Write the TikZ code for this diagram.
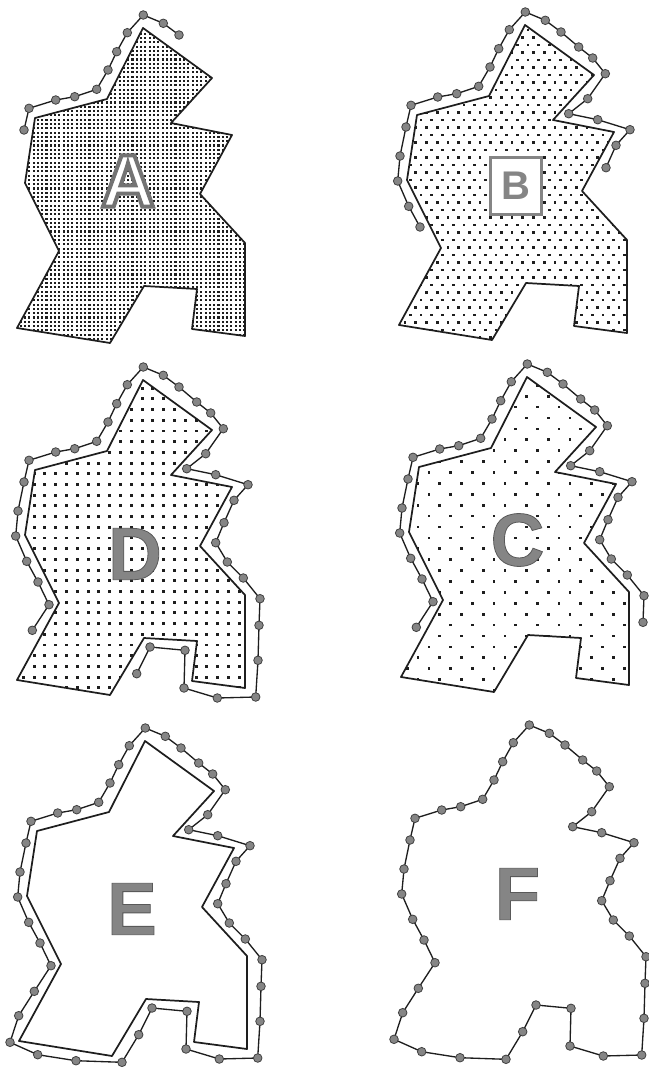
\documentclass[tikz,border=0pt]{standalone}
\usepackage{xcolor}
\usepackage{fontspec}
\setsansfont{Liberation Sans}
\usepackage{tikz}
\definecolor{RInk}{HTML}{1E1E1E}
\definecolor{RBead}{HTML}{858585}
\definecolor{RBeadLine}{HTML}{404040}
\definecolor{RLetter}{HTML}{858585}
% outline of the room, relative to its top corner (pixels, y down)
\newcommand{\room}{(0,0) -- (69,50) -- (28,95) -- (89,107) -- (57,166) -- (102,215)
  -- (102,308) -- (49,301) -- (54,261) -- (1,258) -- (-33,315) -- (-126,300)
  -- (-84,223) -- (-118,155) -- (-108,90) -- (-36,71) -- cycle}
% beads of the walk round the room, in walking order
\newcommand{\beads}{-110.7/250.3,-94/224.7,-105/202,-116.3/181.3,-127.3/156,%
-125/131,-119/102,-114/80.3,-87.3/72,-68.3/68.7,-46.3/61.3,-35/42,%
-26.3/23.7,-15.7/4.7,0.3/-13,20.3/-4.7,36/7,53.7/22,67.7/33,80.3/48.7,%
62.7/73.7,43.7/88.7,72.7/94.7,105/104.7,91/120.3,81/142.7,72.7/162.7,%
84.3/182,100.3/198,117/218.7,116/245.3,115/280.3,112.7/317,74.3/318,%
41/308,42/270.3,7/267,-6.3/293.7,-23/321.3,-69/319.7,-107.3/313.7,%
-135/301.3,-126.3/274.7}
\newcommand{\placebeads}[1]{%
  \foreach \px/\py [count=\k] in \beads {\coordinate (#1\k) at (\px,\py);}}
% dotted fill of the room: step in a row, row step, stagger, dot size
\newcommand{\speckle}[4]{%
  \begin{scope}
    \clip \room;
    \pgfmathtruncatemacro{\nrow}{330/#2}
    \pgfmathtruncatemacro{\ncol}{262/#1}
    \foreach \j in {0,...,\nrow}{
      \pgfmathsetmacro{\yy}{-4+\j*#2}
      \pgfmathsetmacro{\xs}{-132+mod(\j,2)*#3}
      \foreach \i in {0,...,\ncol}
        \fill[RInk] ({\xs+\i*#1},\yy) rectangle ++(#4,#4);
    }
  \end{scope}}
% letter with a stroked rim: width, grey level, letter
\newcommand{\rimmed}[3]{\special{pdf:literal direct 2 Tr #1 w #2 #2 #2 RG}#3\special{pdf:literal direct 0 Tr}}

\begin{document}
\begin{tikzpicture}[x=0.75pt,y=-0.75pt,
  region/.style={draw=RInk,line width=1.3pt,line join=round},
  trail/.style={draw=RInk,line width=1pt,line join=round},
  bead/.style={fill=RBead,draw=RBeadLine,line width=0.6pt},
  letter/.style={font=\sffamily\bfseries\fontsize{56}{56}\selectfont,text=RLetter,inner sep=0pt}]
  \useasboundingbox (0,0) rectangle (649,1067);

  % A: start of the walk
  \begin{scope}[shift={(143,28)}]
    \speckle{4.3}{4.3}{0}{2.1}
    \draw[region] \room;
    \placebeads{A}
    \draw[trail] (A7) \foreach \k in {8,...,17}{-- (A\k)};
    \foreach \k in {7,...,17} \draw[bead] (A\k) circle[radius=4.3];
    \node[letter,text=white] (labA) at (-15,153) {\rimmed{3}{0.45}{A}};
  \end{scope}

  % B
  \begin{scope}[shift={(525,25)}]
    \speckle{10.7}{7.5}{5.35}{2.7}
    \draw[region] \room;
    \placebeads{B}
    \draw[trail] (B3) \foreach \k in {4,...,26}{-- (B\k)};
    \foreach \k in {3,...,26} \draw[bead] (B\k) circle[radius=4.3];
    \node[letter,draw=RLetter,line width=2.4pt,fill=white,minimum width=38pt,
      minimum height=43pt,font=\sffamily\bfseries\fontsize{30}{30}\selectfont]
      (labB) at (-9,161) {B};
  \end{scope}

  % D
  \begin{scope}[shift={(143,380)}]
    \speckle{10.8}{10.7}{0}{2.9}
    \draw[region] \room;
    \placebeads{D}
    \draw[trail] (D1) \foreach \k in {2,...,38}{-- (D\k)};
    \foreach \k in {1,...,38} \draw[bead] (D\k) circle[radius=4.3];
    \node[letter] (labD) at (-8,174) {\rimmed{0.6}{0.35}{D}};
  \end{scope}

  % C
  \begin{scope}[shift={(527,377)}]
    \speckle{21.7}{10.9}{10.85}{2.7}
    \draw[region] \room;
    \placebeads{C}
    \draw[trail] (C1) \foreach \k in {2,...,31}{-- (C\k)};
    \foreach \k in {1,...,31} \draw[bead] (C\k) circle[radius=4.3];
    \node[letter] (labC) at (-9.5,163) {\rimmed{0.6}{0.35}{C}};
  \end{scope}

  % E: walk closed
  \begin{scope}[shift={(145,741)}]
    \draw[region] \room;
    \placebeads{E}
    \draw[trail] (E1) \foreach \k in {2,...,43}{-- (E\k)} -- cycle;
    \foreach \k in {1,...,43} \draw[bead] (E\k) circle[radius=4.3];
    \node[letter] (labE) at (-13,168) {\rimmed{0.6}{0.35}{E}};
  \end{scope}

  % F: only the walk is left
  \begin{scope}[shift={(529,738)}]
    \placebeads{F}
    \draw[trail] (F1) \foreach \k in {2,...,43}{-- (F\k)} -- cycle;
    \foreach \k in {1,...,43} \draw[bead] (F\k) circle[radius=4.3];
    \node[letter] (labF) at (-11.5,156) {\rimmed{0.6}{0.35}{F}};
  \end{scope}
\end{tikzpicture}
\end{document}
